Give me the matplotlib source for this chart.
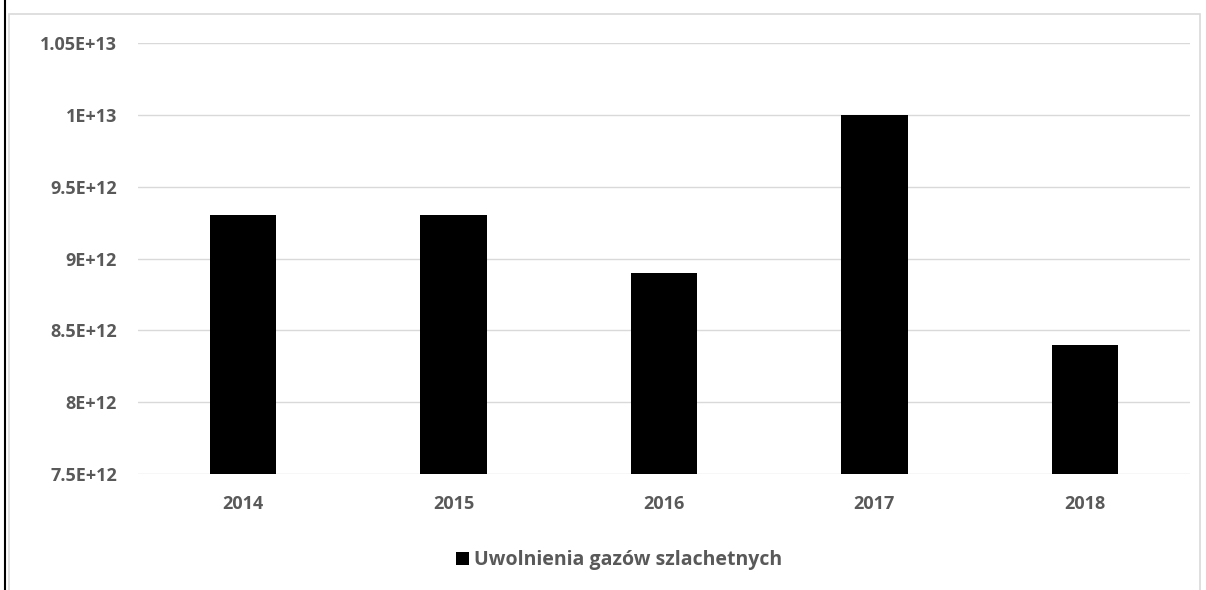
import matplotlib
matplotlib.use("Agg")
import matplotlib.pyplot as plt
from matplotlib.patches import Rectangle
from matplotlib.lines import Line2D

lata = ["2014", "2015", "2016", "2017", "2018"]
uwolnienia = [9.3e12, 9.3e12, 8.9e12, 1.0e13, 8.4e12]
yticki = [7.5e12, 8e12, 8.5e12, 9e12, 9.5e12, 1e13, 1.05e13]
ytick_labels = ["7.5E+12", "8E+12", "8.5E+12", "9E+12", "9.5E+12", "1E+13", "1.05E+13"]
seria = "Uwolnienia gazów szlachetnych"

plt.rcParams['font.family'] = ['Open Sans', 'DejaVu Sans']
szary = '#595959'

fig = plt.figure(figsize=(12.06, 5.90), dpi=100)
ax = fig.add_axes([138/1206, 1 - 474/590, (1190 - 138)/1206, (474 - 43)/590])

x = range(len(lata))
ax.bar(x, uwolnienia, width=0.315, color='black', zorder=3, label=seria)
ax.set_xlim(-0.5, len(lata) - 0.5)
ax.set_ylim(7.5e12, 1.05e13)
ax.set_yticks(yticki)
ax.set_yticklabels(ytick_labels)
ax.set_xticks(list(x))
ax.set_xticklabels(lata)
ax.grid(axis='y', color='#d9d9d9', linewidth=1, zorder=0)
for s in ax.spines.values():
    s.set_visible(False)
ax.tick_params(axis='both', length=0, labelsize=13, labelcolor=szary)
ax.tick_params(axis='y', pad=15)
ax.tick_params(axis='x', pad=15)
for t in ax.get_xticklabels() + ax.get_yticklabels():
    t.set_fontweight('bold')

# ramka wykresu i linia z lewej strony zrzutu
fig.patches.append(Rectangle((9/1206, -0.05), (1200 - 9)/1206, 1.05 - 14/590,
                             transform=fig.transFigure, fill=False,
                             edgecolor='#d9d9d9', linewidth=1.2))
fig.lines.append(Line2D([5/1206, 5/1206], [0, 1], transform=fig.transFigure,
                        color='black', linewidth=1.5))

fig.legend(loc='center', bbox_to_anchor=(619/1206, 1 - 560/590), frameon=False,
           handlelength=0.65, handleheight=0.65, handletextpad=0.25,
           prop={'size': 14, 'weight': 'bold'}, labelcolor=szary)

fig.savefig('out.png', dpi=100, facecolor='white')
